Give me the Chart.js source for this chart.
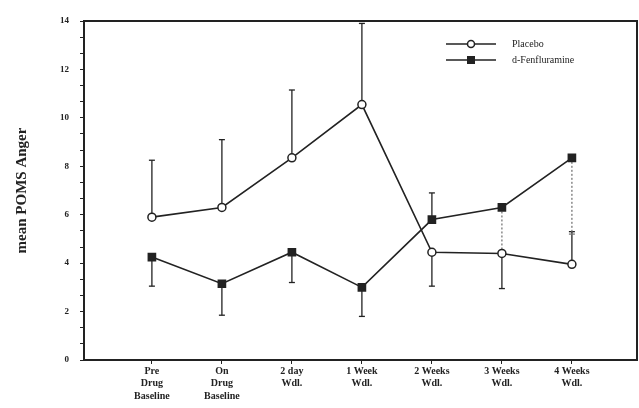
<!DOCTYPE html>
<html>
<head>
<meta charset="utf-8">
<script src="https://cdn.jsdelivr.net/npm/chart.js@4.4.1/dist/chart.umd.min.js"></script>
<style>
  html, body { margin: 0; padding: 0; background: #fff; }
</style>
</head>
<body>
<canvas id="chart" width="639" height="408"></canvas>
<script>
// Data
const categories = [
    ['Pre', 'Drug', 'Baseline'],
    ['On', 'Drug', 'Baseline'],
    ['2 day', 'Wdl.'],
    ['1 Week', 'Wdl.'],
    ['2 Weeks', 'Wdl.'],
    ['3 Weeks', 'Wdl.'],
    ['4 Weeks', 'Wdl.']
];
const placebo = [5.9, 6.3, 8.35, 10.55, 4.45, 4.4, 3.95];
const placeboErrEnd = [8.25, 9.1, 11.15, 13.9, 3.05, 2.95, 5.3];
const dfen = [4.25, 3.15, 4.45, 3.0, 5.8, 6.3, 8.35];
const dfenErrEnd = [3.05, 1.85, 3.2, 1.8, 6.9, 4.45, 5.2];
const dfenErrDotted = [false, false, false, false, false, true, true];
const yLabels = [0, 2, 4, 6, 8, 10, 12, 14];

const serif = "'Liberation Serif', 'DejaVu Serif', serif";

function toPoints(arr) {
    return arr.map((v, i) => ({ x: i, y: v }));
}

// Foutbalken tekenen onder de markers
const errorBars = {
    id: 'errorBars',
    beforeDatasetsDraw(chart) {
        const ctx = chart.ctx;
        const xs = chart.scales.x, ys = chart.scales.y;
        const sets = [
            { vals: placebo, ends: placeboErrEnd, dotted: placebo.map(() => false) },
            { vals: dfen, ends: dfenErrEnd, dotted: dfenErrDotted }
        ];
        ctx.save();
        sets.forEach(s => {
            s.vals.forEach((v, i) => {
                const x = xs.getPixelForValue(i);
                const y0 = ys.getPixelForValue(v);
                const y1 = ys.getPixelForValue(s.ends[i]);
                ctx.beginPath();
                if (s.dotted[i]) {
                    ctx.setLineDash([2, 2]);
                    ctx.strokeStyle = '#777';
                } else {
                    ctx.setLineDash([]);
                    ctx.strokeStyle = '#222';
                }
                ctx.lineWidth = 1.3;
                ctx.moveTo(x, y0);
                ctx.lineTo(x, y1);
                ctx.stroke();
                ctx.setLineDash([]);
                ctx.beginPath();
                ctx.moveTo(x - 3, y1);
                ctx.lineTo(x + 3, y1);
                ctx.stroke();
            });
        });
        ctx.restore();
    }
};

// Kader en legende
const frameAndLegend = {
    id: 'frameAndLegend',
    afterDraw(chart) {
        const ctx = chart.ctx;
        const a = chart.chartArea;
        ctx.save();
        ctx.strokeStyle = '#222';
        ctx.lineWidth = 2;
        ctx.beginPath();
        ctx.moveTo(a.left, a.top);
        ctx.lineTo(a.right, a.top);
        ctx.lineTo(a.right, a.bottom);
        ctx.stroke();

        const rows = [
            { label: 'Placebo', y: 44, style: 'circle' },
            { label: 'd-Fenfluramine', y: 60, style: 'rect' }
        ];
        rows.forEach(r => {
            ctx.strokeStyle = '#222';
            ctx.lineWidth = 1.5;
            ctx.beginPath();
            ctx.moveTo(446, r.y);
            ctx.lineTo(496, r.y);
            ctx.stroke();
            if (r.style === 'circle') {
                ctx.fillStyle = '#fff';
                ctx.beginPath();
                ctx.arc(471, r.y, 3.5, 0, Math.PI * 2);
                ctx.fill();
                ctx.stroke();
            } else {
                ctx.fillStyle = '#222';
                ctx.fillRect(467, r.y - 4, 8, 8);
            }
            ctx.fillStyle = '#222';
            ctx.font = '10px ' + serif;
            ctx.textBaseline = 'middle';
            ctx.fillText(r.label, 512, r.y);
        });
        ctx.restore();
    }
};

new Chart(document.getElementById('chart'), {
    type: 'line',
    data: {
        datasets: [
            {
                label: 'Placebo',
                data: toPoints(placebo),
                borderColor: '#222',
                borderWidth: 1.6,
                pointStyle: 'circle',
                pointRadius: 4,
                pointBackgroundColor: '#fff',
                pointBorderColor: '#222',
                pointBorderWidth: 1.5,
                tension: 0
            },
            {
                label: 'd-Fenfluramine',
                data: toPoints(dfen),
                borderColor: '#222',
                borderWidth: 1.6,
                pointStyle: 'rect',
                pointRadius: 5,
                pointBackgroundColor: '#222',
                pointBorderColor: '#222',
                tension: 0
            }
        ]
    },
    options: {
        responsive: false,
        animation: false,
        layout: { autoPadding: false, padding: { top: 21, right: 2, left: 0, bottom: 0 } },
        plugins: {
            legend: { display: false },
            tooltip: { enabled: false }
        },
        scales: {
            x: {
                type: 'linear',
                min: -0.97,
                max: 6.93,
                afterBuildTicks: (scale) => {
                    scale.ticks = categories.map((c, i) => ({ value: i }));
                },
                afterFit: (scale) => {
                    scale.height = 48;
                    scale.paddingLeft = 0;
                    scale.paddingRight = 0;
                },
                ticks: {
                    callback: (v) => categories[v],
                    color: '#222',
                    font: { family: serif, size: 10, weight: 'bold', lineHeight: 1.25 },
                    maxRotation: 0,
                    padding: 1
                },
                grid: { drawOnChartArea: false, tickLength: 4, color: '#222' },
                border: { color: '#222', width: 2 }
            },
            y: {
                min: 0,
                max: 14,
                afterBuildTicks: (scale) => {
                    const t = [];
                    for (let k = 0; k <= 21; k++) t.push({ value: k * 2 / 3 });
                    scale.ticks = t;
                },
                afterFit: (scale) => { scale.width = 84; },
                ticks: {
                    callback: (v) => {
                        const r = Math.round(v);
                        return (Math.abs(v - r) < 1e-6 && yLabels.includes(r)) ? String(r) : '';
                    },
                    color: '#222',
                    font: { family: serif, size: 9, weight: 'bold' },
                    padding: 11
                },
                grid: { drawOnChartArea: false, tickLength: 4, color: '#222' },
                border: { color: '#222', width: 2 },
                title: {
                    display: true,
                    text: 'mean POMS Anger',
                    color: '#222',
                    font: { family: serif, size: 15, weight: 'bold' },
                    padding: { top: 13, bottom: 4 }
                }
            }
        }
    },
    plugins: [errorBars, frameAndLegend]
});
</script>
</body>
</html>
